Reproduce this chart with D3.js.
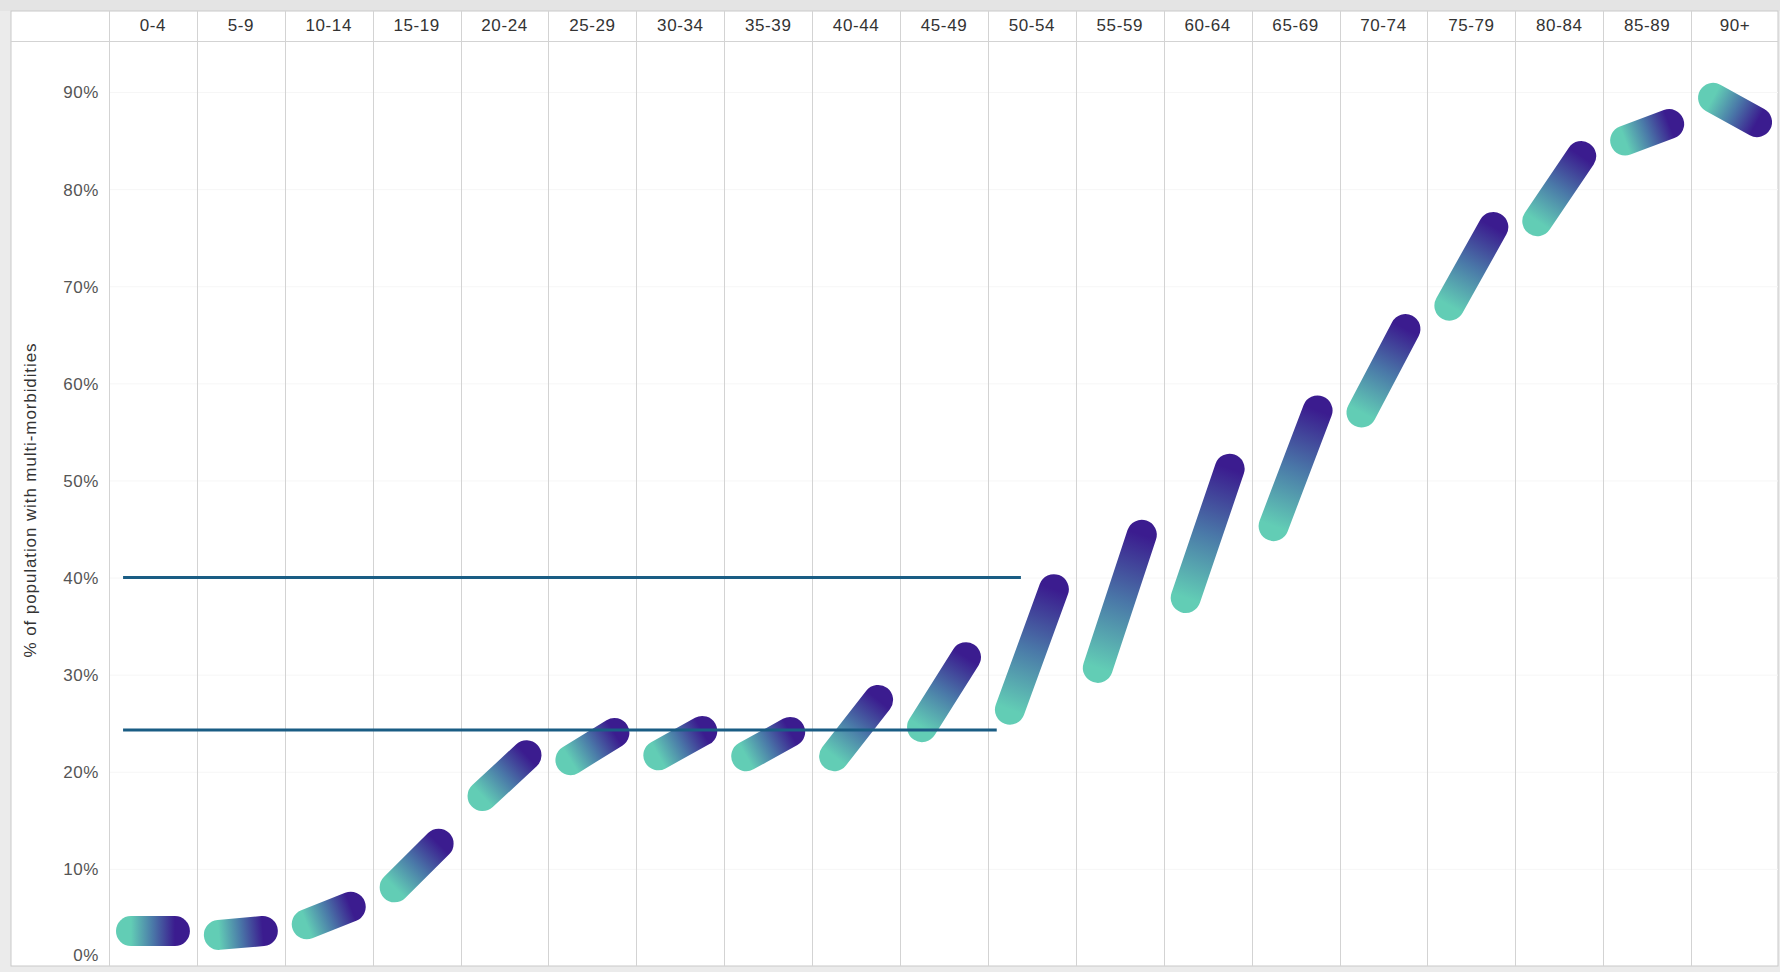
<!DOCTYPE html>
<html>
<head>
<meta charset="utf-8">
<script src="https://cdn.jsdelivr.net/npm/d3@7"></script>
<style>
  html, body { margin: 0; padding: 0; background: #ebebeb; }
  svg { display: block; }
  text { font-family: "Liberation Sans", Arial, sans-serif; }
</style>
</head>
<body>
<svg id="chart" width="1780" height="972"></svg>
<script>
// Age bands (columns)
const ageBands = ["0-4", "5-9", "10-14", "15-19", "20-24", "25-29", "30-34", "35-39", "40-44",
  "45-49", "50-54", "55-59", "60-64", "65-69", "70-74", "75-79", "80-84", "85-89", "90+"];

// % of population with multi-morbidities: value at the start and at the end of each band
const startPct = [3.6, 3.2, 4.3, 8.1, 17.5, 21.2, 21.7, 21.6, 21.6, 24.6, 26.4, 30.7, 37.9, 45.3, 57.0, 68.0, 76.7, 85.0, 89.4];
const endPct   = [3.6, 3.6, 6.1, 12.6, 21.7, 24.0, 24.2, 24.1, 27.4, 31.8, 38.8, 44.4, 51.2, 57.2, 65.6, 76.1, 83.4, 86.7, 86.9];

// Y axis ticks
const yTicks = [0, 10, 20, 30, 40, 50, 60, 70, 80, 90];
const yTitle = "% of population with multi-morbidities";

// Reference levels (%), with their horizontal extent in column units
const refLevels = [40, 24.3];
const refFrom   = [0.16, 0.16];
const refTo     = [10.375, 10.1];

const svg = d3.select("#chart");
const W = 1780, H = 972;
const frame = { left: 11, right: 1778, top: 11, bottom: 966 };
const plotLeft = 109, headerBottom = 41;

// Scales
const x = d3.scaleBand().domain(ageBands).range([plotLeft, 1779]).padding(0);
const xIdx = d3.scaleLinear().domain([0, ageBands.length]).range([plotLeft, 1779]);
const y = d3.scaleLinear().domain([0, 90]).range([966, 92]);

// Frame
svg.append("rect")
  .attr("x", 0).attr("y", 0).attr("width", W).attr("height", 11)
  .attr("fill", "#e4e4e4");
svg.append("rect")
  .attr("x", frame.left).attr("y", frame.top)
  .attr("width", frame.right - frame.left).attr("height", frame.bottom - frame.top)
  .attr("fill", "#ffffff").attr("stroke", "#c9c9c9").attr("stroke-width", 1);

svg.append("clipPath").attr("id", "plotClip")
  .append("rect").attr("x", plotLeft).attr("y", headerBottom)
  .attr("width", frame.right - plotLeft).attr("height", frame.bottom - headerBottom);

// Faint horizontal gridlines
svg.append("g").selectAll("line").data(yTicks.filter(d => d > 0)).join("line")
  .attr("x1", plotLeft).attr("x2", frame.right)
  .attr("y1", d => y(d) + 0.5).attr("y2", d => y(d) + 0.5)
  .attr("stroke", "#f6f6f6").attr("stroke-width", 1);

// Column separators
svg.append("g").selectAll("line").data(ageBands).join("line")
  .attr("x1", d => Math.round(x(d)) + 0.5).attr("x2", d => Math.round(x(d)) + 0.5)
  .attr("y1", frame.top).attr("y2", frame.bottom)
  .attr("stroke", "#d3d3d3").attr("stroke-width", 1);

// Header bottom rule
svg.append("line")
  .attr("x1", frame.left).attr("x2", frame.right)
  .attr("y1", headerBottom + 0.5).attr("y2", headerBottom + 0.5)
  .attr("stroke", "#d3d3d3");

// Column header labels
const header = svg.append("g")
  .attr("transform", `translate(0,${headerBottom})`)
  .call(d3.axisTop(x).tickSize(0).tickPadding(10));
header.select(".domain").remove();
header.selectAll("text")
  .attr("font-family", "'Liberation Sans', Arial, sans-serif")
  .attr("font-size", 17).attr("letter-spacing", "0.6px").attr("fill", "#333");

// Y axis labels
const yAxis = svg.append("g")
  .attr("transform", `translate(99,1)`)
  .call(d3.axisLeft(y).tickValues(yTicks).tickSize(0).tickPadding(0).tickFormat(d => d + "%"));
yAxis.select(".domain").remove();
yAxis.selectAll(".tick")
  .attr("transform", d => `translate(0,${Math.min(y(d), frame.bottom - 11)})`);
yAxis.selectAll("text")
  .attr("font-family", "'Liberation Sans', Arial, sans-serif")
  .attr("font-size", 17).attr("letter-spacing", "0.6px").attr("fill", "#555");

// Y axis title
svg.append("text")
  .attr("transform", `translate(32,500) rotate(-90)`)
  .attr("text-anchor", "middle").attr("dominant-baseline", "middle")
  .attr("font-size", 17).attr("letter-spacing", "0.9px").attr("fill", "#333")
  .text(yTitle);

// Capsules: one per age band, from start value (teal) to end value (indigo)
const rows = ageBands.map((a, i) => ({
  age: a, i,
  x0: x(a) + x.bandwidth() * 0.25, y0: y(startPct[i]),
  x1: x(a) + x.bandwidth() * 0.75, y1: y(endPct[i])
}));

const defs = svg.append("defs");
const grads = defs.selectAll("linearGradient").data(rows).join("linearGradient")
  .attr("id", d => "grad" + d.i)
  .attr("gradientUnits", "userSpaceOnUse")
  .attr("x1", d => d.x0).attr("y1", d => d.y0)
  .attr("x2", d => d.x1).attr("y2", d => d.y1);
grads.append("stop").attr("offset", "0%").attr("stop-color", "#62cdb5");
grads.append("stop").attr("offset", "50%").attr("stop-color", "#4a78a8");
grads.append("stop").attr("offset", "100%").attr("stop-color", "#3b1c8f");

const marks = svg.append("g").attr("clip-path", "url(#plotClip)");
marks.selectAll("line.capsule").data(rows).join("line")
  .attr("class", "capsule")
  .attr("x1", d => d.x0).attr("y1", d => d.y0)
  .attr("x2", d => d.x1).attr("y2", d => d.y1)
  .attr("stroke", d => `url(#grad${d.i})`)
  .attr("stroke-width", 30)
  .attr("stroke-linecap", "round");

// Reference lines
svg.append("g").selectAll("line").data(refLevels).join("line")
  .attr("x1", (d, i) => xIdx(refFrom[i])).attr("x2", (d, i) => xIdx(refTo[i]))
  .attr("y1", d => y(d)).attr("y2", d => y(d))
  .attr("stroke", "#1a5d84").attr("stroke-width", 3);
</script>
</body>
</html>
